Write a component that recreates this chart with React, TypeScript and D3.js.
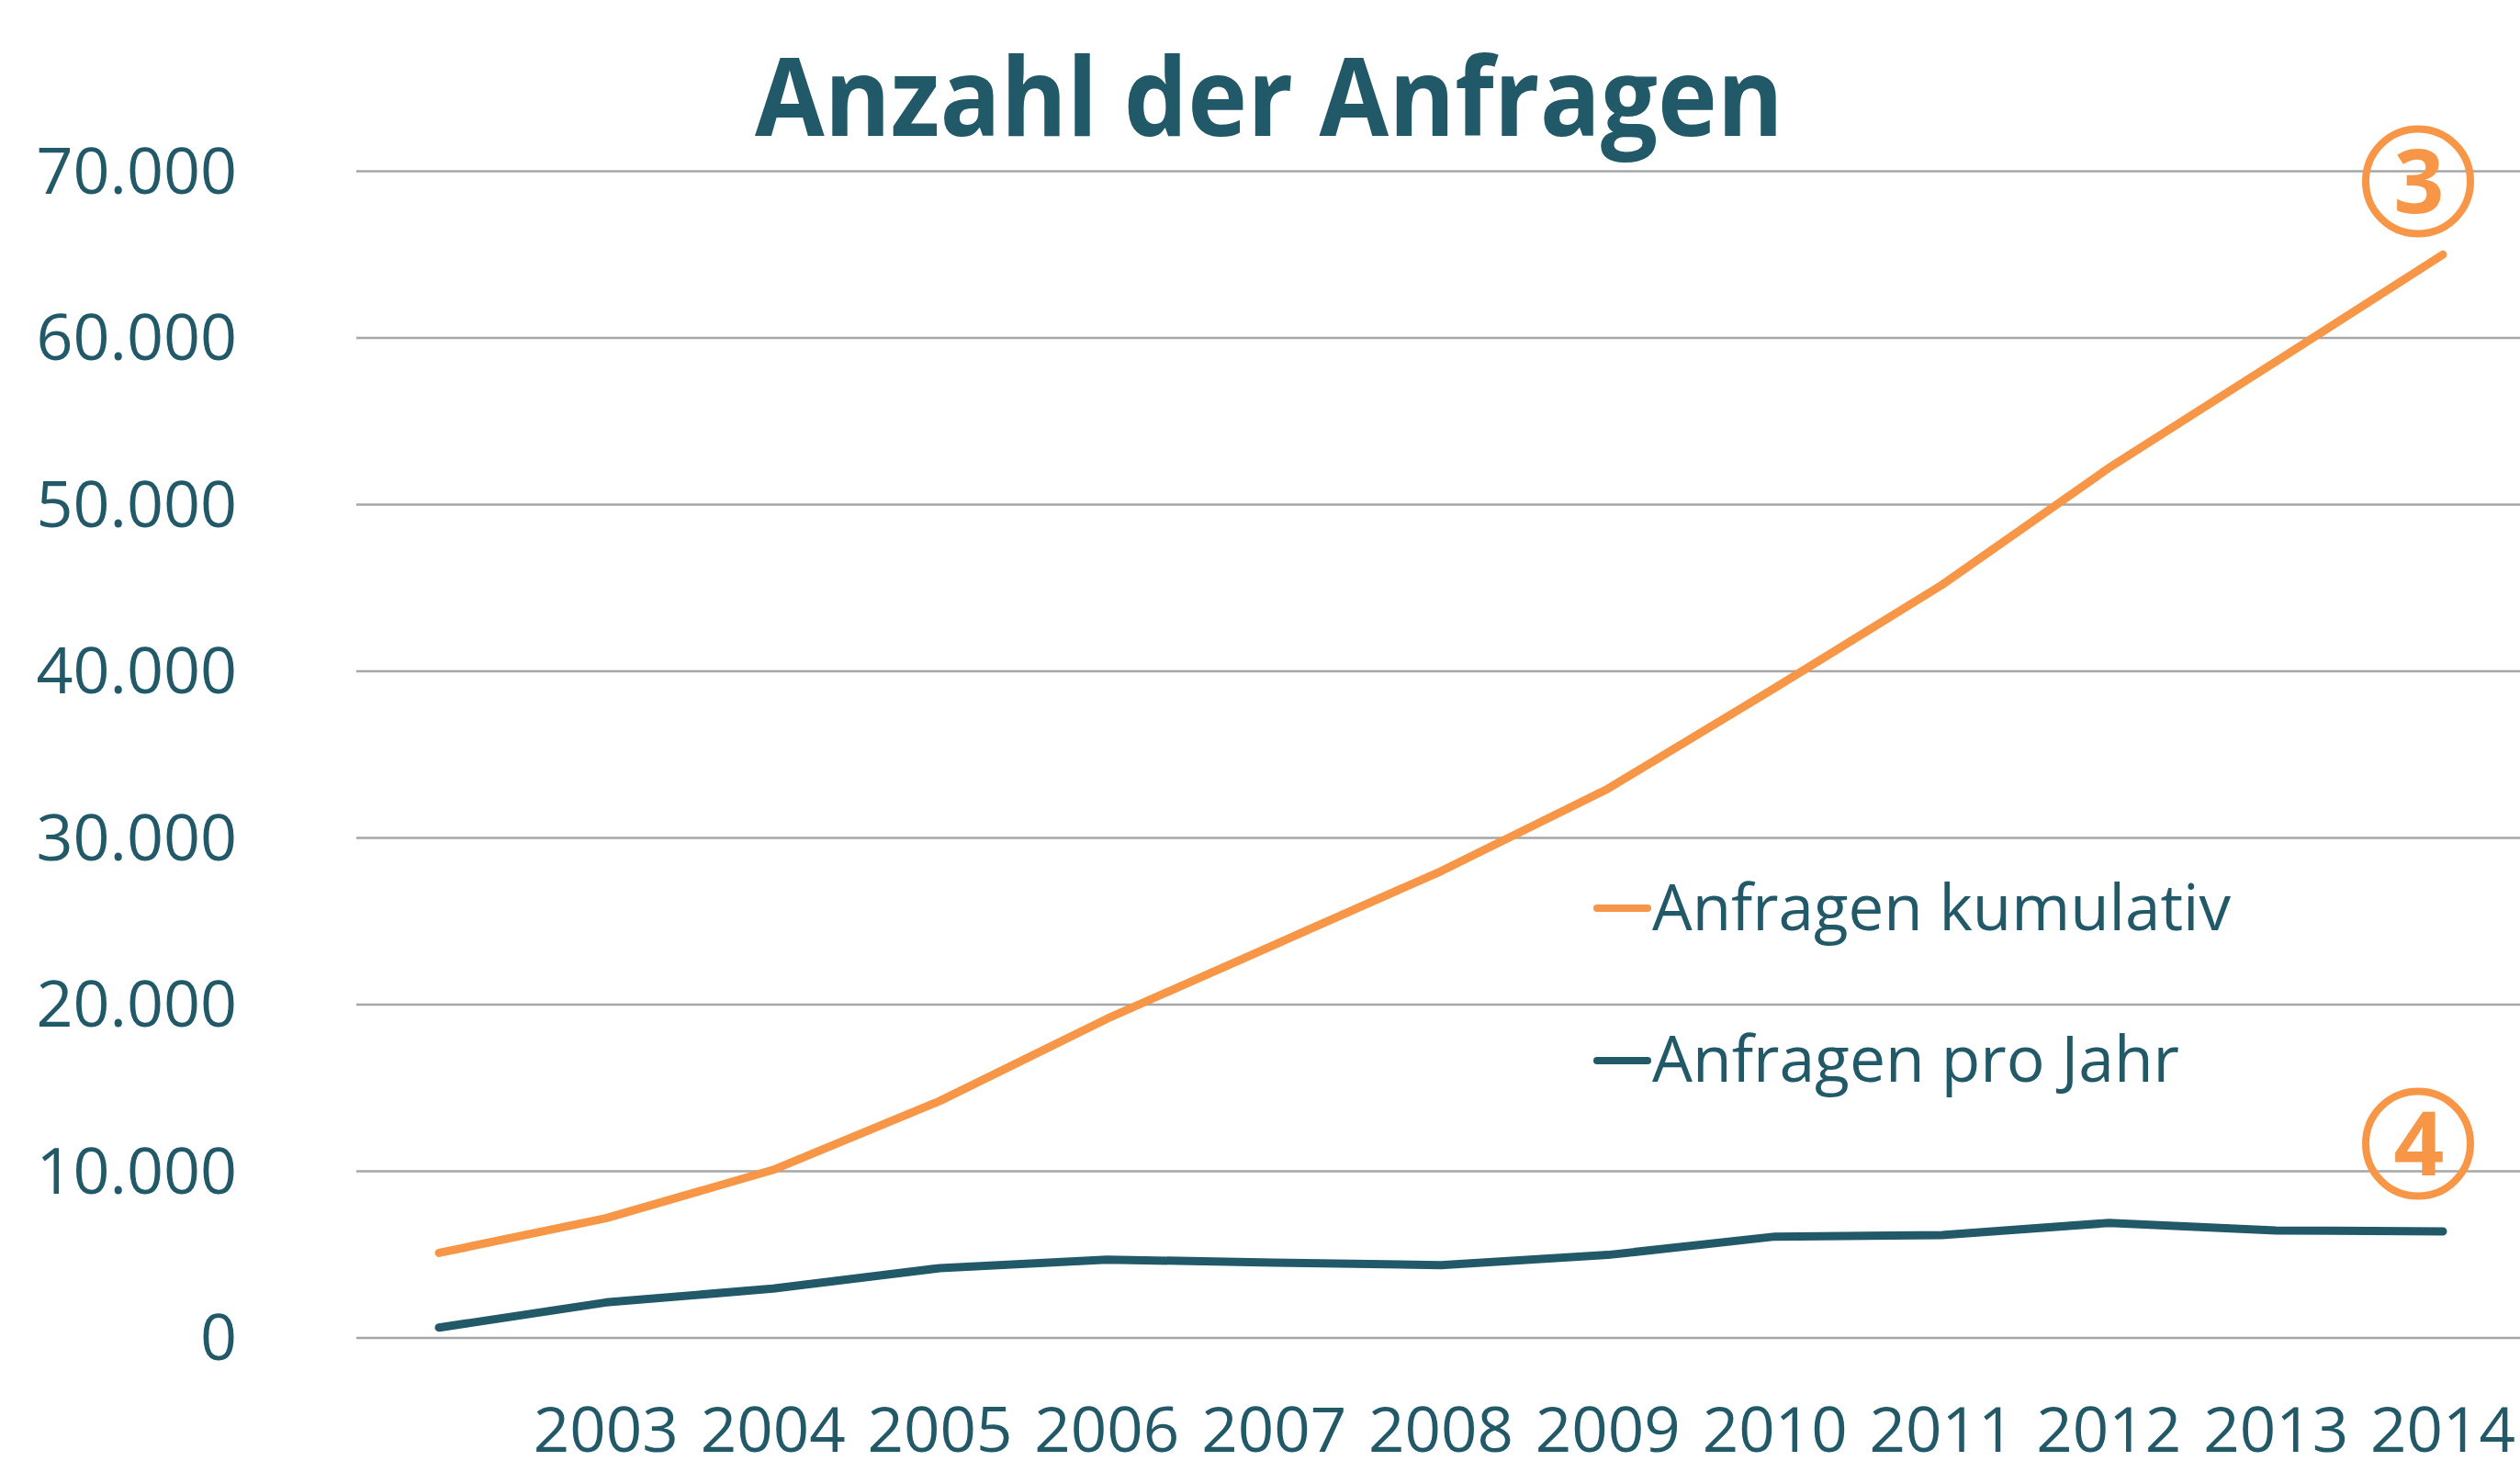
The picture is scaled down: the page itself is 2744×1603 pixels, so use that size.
import React from "react";
import * as d3 from "d3";

const years = [2002, 2003, 2004, 2005, 2006, 2007, 2008, 2009, 2010, 2011, 2012, 2013, 2014];
const tickYears = [2003, 2004, 2005, 2006, 2007, 2008, 2009, 2010, 2011, 2012, 2013, 2014];
const kumulativ = [5100, 7180, 10080, 14220, 19150, 23580, 28000, 32950, 39000, 45180, 52200, 58580, 65000];
const proJahr = [620, 2130, 2960, 4190, 4700, 4520, 4370, 4980, 6080, 6170, 6900, 6450, 6390];
const yTicks = [0, 10000, 20000, 30000, 40000, 50000, 60000, 70000];
const seriesNames = ["Anfragen kumulativ", "Anfragen pro Jahr"];

const W = 2744;
const H = 1603;
const ORANGE = "#F79646";
const TEAL = "#215968";
const GRID = "#a6a6a6";
const FONT = "'Open Sans', 'Noto Sans', sans-serif";

const locale = d3.formatLocale({ decimal: ",", thousands: ".", grouping: [3], currency: ["", "€"] });
const fmt = locale.format(",");

export default function App() {
  const x = d3.scalePoint<number>().domain(years).range([478, 2660]);
  const y = d3.scaleLinear().domain([0, 70000]).range([1457, 186.5]);
  const line = d3
    .line<number>()
    .x((_, i) => x(years[i]) as number)
    .y((d) => y(d));

  return (
    <svg width={W} height={H} style={{ position: "absolute", left: 0, top: 0, background: "#fff" }}>
      <rect x={0} y={0} width={W} height={H} fill="#fff" />
      <text
        x={1382}
        y={148}
        textAnchor="middle"
        fontFamily={FONT}
        fontWeight={700}
        fontSize={118}
        fill={TEAL}
        textLength={1120}
        lengthAdjust="spacingAndGlyphs"
      >
        Anzahl der Anfragen
      </text>
      {yTicks.map((t) => (
        <g key={t}>
          <line x1={388} x2={W} y1={y(t)} y2={y(t)} stroke={GRID} strokeWidth={2.5} />
          <text x={258} y={y(t) + 24} textAnchor="end" fontFamily={FONT} fontSize={70} fill={TEAL}>
            {fmt(t)}
          </text>
        </g>
      ))}
      {tickYears.map((yr) => (
        <text
          key={yr}
          x={x(yr) as number}
          y={1581}
          textAnchor="middle"
          fontFamily={FONT}
          fontSize={68}
          fill={TEAL}
          textLength={158}
          lengthAdjust="spacingAndGlyphs"
        >
          {yr}
        </text>
      ))}
      <path d={line(kumulativ) || ""} fill="none" stroke={ORANGE} strokeWidth={9} strokeLinejoin="round" strokeLinecap="round" />
      <path d={line(proJahr) || ""} fill="none" stroke={TEAL} strokeWidth={9} strokeLinejoin="round" strokeLinecap="round" />
      {seriesNames.map((n, i) => (
        <g key={n}>
          <line
            x1={1739}
            x2={1794}
            y1={989 + i * 166}
            y2={989 + i * 166}
            stroke={i === 0 ? ORANGE : TEAL}
            strokeWidth={8}
            strokeLinecap="round"
          />
          <text
            x={1799}
            y={1013 + i * 165}
            fontFamily={FONT}
            fontSize={70}
            fill={TEAL}
            textLength={i === 0 ? 630 : 574}
            lengthAdjust="spacingAndGlyphs"
          >
            {n}
          </text>
        </g>
      ))}
      {[
        { label: "3", cy: 197.5 },
        { label: "4", cy: 1245.5 },
      ].map((c) => (
        <g key={c.label}>
          <circle cx={2633} cy={c.cy} r={57} fill="none" stroke={ORANGE} strokeWidth={8} />
          <text
            x={2634}
            y={c.cy + 34}
            textAnchor="middle"
            fontFamily={FONT}
            fontWeight={700}
            fontSize={96}
            fill={ORANGE}
          >
            {c.label}
          </text>
        </g>
      ))}
    </svg>
  );
}
